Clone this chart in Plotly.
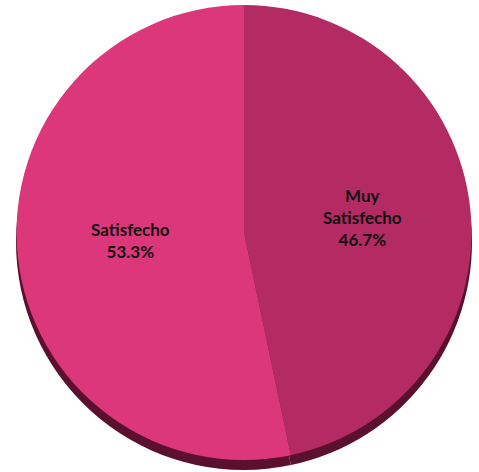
import plotly.graph_objects as go

# Survey satisfaction shares (percent)
categories = ["Muy Satisfecho", "Satisfecho"]
values = [46.7, 53.3]
colors = ["#B42A62", "#DC377A"]
rim_color = "#5C1030"

W, H = 479, 472

fig = go.Figure()

# darker copy shifted down to give the pie a bit of depth
fig.add_trace(go.Pie(
    labels=categories, values=values, sort=False, direction="clockwise", rotation=0,
    marker=dict(colors=[rim_color, rim_color], line=dict(width=0)),
    textinfo="none", hoverinfo="skip", showlegend=False,
    domain=dict(x=[10 / W, 478 / W], y=[1 - 470 / H, 1 - 14 / H]),
))

fig.add_trace(go.Pie(
    labels=categories, values=values, sort=False, direction="clockwise", rotation=0,
    marker=dict(colors=colors, line=dict(width=0)),
    textinfo="none", showlegend=False,
    domain=dict(x=[10 / W, 478 / W], y=[1 - 460 / H, 1 - 5 / H]),
))

label_pos = {"Muy Satisfecho": (362, 217), "Satisfecho": (130, 240)}
for cat, val in zip(categories, values):
    px, py = label_pos[cat]
    text = cat.replace(" ", "<br>") + f"<br>{val:.1f}%"
    fig.add_annotation(
        x=px / W, y=1 - py / H, xref="paper", yref="paper",
        xanchor="center", yanchor="middle",
        text=f"<b>{text}</b>", showarrow=False,
        font=dict(family="Lato", size=17, color="#111111"),
        align="center",
    )

fig.update_layout(
    width=W, height=H, margin=dict(l=0, r=0, t=0, b=0),
    paper_bgcolor="white", plot_bgcolor="white",
)

fig.write_html("out.html")
